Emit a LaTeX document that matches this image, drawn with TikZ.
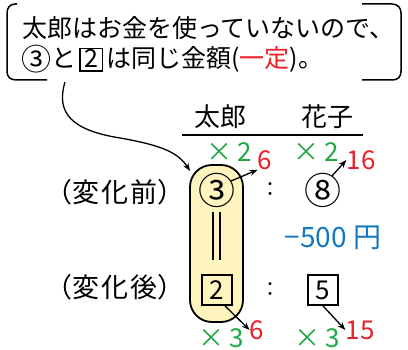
\documentclass[tikz,border=0pt]{standalone}
\usepackage{fontspec}
\setmainfont{Noto Sans CJK JP}
\usetikzlibrary{arrows.meta}
\definecolor{kred}{HTML}{E8202A}
\definecolor{kgreen}{HTML}{22A745}
\definecolor{kblue}{HTML}{1478C0}
\definecolor{kyellow}{HTML}{FFF4BE}
\newcommand{\sqnum}[1]{{\setlength{\fboxrule}{1.5pt}\setlength{\fboxsep}{0.5pt}\fbox{\makebox[20pt]{\rule[-2pt]{0pt}{20pt}#1}}}}
\newcommand{\circnum}[1]{{\fontsize{30}{30}\selectfont\raisebox{-0.08em}{#1}}}

\begin{document}
\begin{tikzpicture}[x=1pt, y=-1pt,
    txt/.style={inner sep=0pt, font=\fontsize{25}{30}\selectfont},
    big/.style={inner sep=0pt, font=\fontsize{26}{30}\selectfont},
    num/.style={inner sep=0pt, font=\fontsize{26}{30}\selectfont},
    mul/.style={num, text=kgreen},
    res/.style={num, text=kred},
    circ/.style={inner sep=0pt, font=\fontsize{37}{40}\selectfont},
    sq/.style={draw, line width=1.8pt, minimum size=30pt, inner sep=0pt, font=\fontsize{26}{30}\selectfont},
    brk/.style={line width=1.5pt},
    arr/.style={line width=1.3pt, -{Stealth[length=8pt, width=6pt]}}]
  \useasboundingbox (0,0) rectangle (408,350);

  % speech box
  \draw[brk] (17,4) -- (15,4) .. controls (10,4) and (7,8) .. (7,13) -- (7,71)
    .. controls (7,77) and (10,80) .. (17,80) -- (47,80);
  \draw[brk] (362,4) -- (392,4) .. controls (398,4) and (401,8) .. (401,13) -- (401,71)
    .. controls (401,77) and (398,80) .. (392,80) -- (362,80);
  \node[txt, anchor=west] (line1) at (22,28) {太郎はお金を使っていないので、};
  \node[txt, anchor=west] (line2) at (21,59) {\circnum{③}と\hspace{3pt}\sqnum{2}\hspace{3pt}は同じ金額(\textcolor{kred}{一定})。};

  % yellow pill
  \node[draw, line width=1.8pt, fill=kyellow, rounded corners=22pt,
    minimum width=53pt, minimum height=157pt] (pill) at (216.5,243.5) {};
  \coordinate (tail) at (65,82);
  \coordinate (hit) at (190,171);
  \draw[arr] (tail) .. controls (56,112) and (70,130) .. (120,138)
    .. controls (160,145) and (178,152) .. (hit);

  % header
  \node[big] (taro) at (220,117) {太郎};
  \node[big] (hanako) at (327,117) {花子};
  \draw[line width=2.5pt] (182,135) -- (363,135);

  % labels
  \node[big, font=\fontsize{27}{30}\selectfont] (before) at (115,192) {（変\hspace{2pt}化\hspace{2pt}前）};
  \node[big, font=\fontsize{27}{30}\selectfont] (after) at (115,287) {（変\hspace{2pt}化\hspace{2pt}後）};

  % before
  \node[circ] (c3) at (217,190) {③};
  \node[inner sep=0pt, font=\fontsize{20}{24}\selectfont] (colon1) at (270,190) {：};
  \node[circ] (c8) at (323,190) {⑧};
  \node[mul] (g1) at (229,152) {×\hspace{5pt}2};
  \node[res] (r1) at (265,160) {6};
  \node[mul] (g2) at (316,152) {×\hspace{5pt}2};
  \node[res] (r2) at (361,160) {16};
  \draw[arr] (c3.center) ++(14,-9) coordinate (s1) (s1) -- (r1.south west);
  \draw[arr] (c8.center) ++(9,-14) coordinate (s2) (s2) -- (r2.west);

  % equal sign
  \coordinate (eqt) at (216.5,212);
  \coordinate (eqb) at (216.5,260);
  \draw[line width=1.5pt] ([xshift=-3.5pt]eqt) -- ([xshift=-3.5pt]eqb)
    ([xshift=3.5pt]eqt) -- ([xshift=3.5pt]eqb);

  \node[num, text=kblue, font=\fontsize{28}{30}\selectfont] (minus) at (333,238) {−500 円};

  % after
  \node[sq] (b2) at (217,290) {2};
  \node[inner sep=0pt, font=\fontsize{20}{24}\selectfont] (colon2) at (270,290) {：};
  \node[sq] (b5) at (323,290) {5};
  \node[mul] (g3) at (221,338) {×\hspace{5pt}3};
  \node[res] (r3) at (257,330) {6};
  \node[mul] (g4) at (317,338) {×\hspace{5pt}3};
  \node[res] (r4) at (360,330) {15};
  \draw[arr] ([xshift=8pt]b2.south) -- (r3.west);
  \draw[arr] (b5.south) -- (r4.west);
\end{tikzpicture}
\end{document}
